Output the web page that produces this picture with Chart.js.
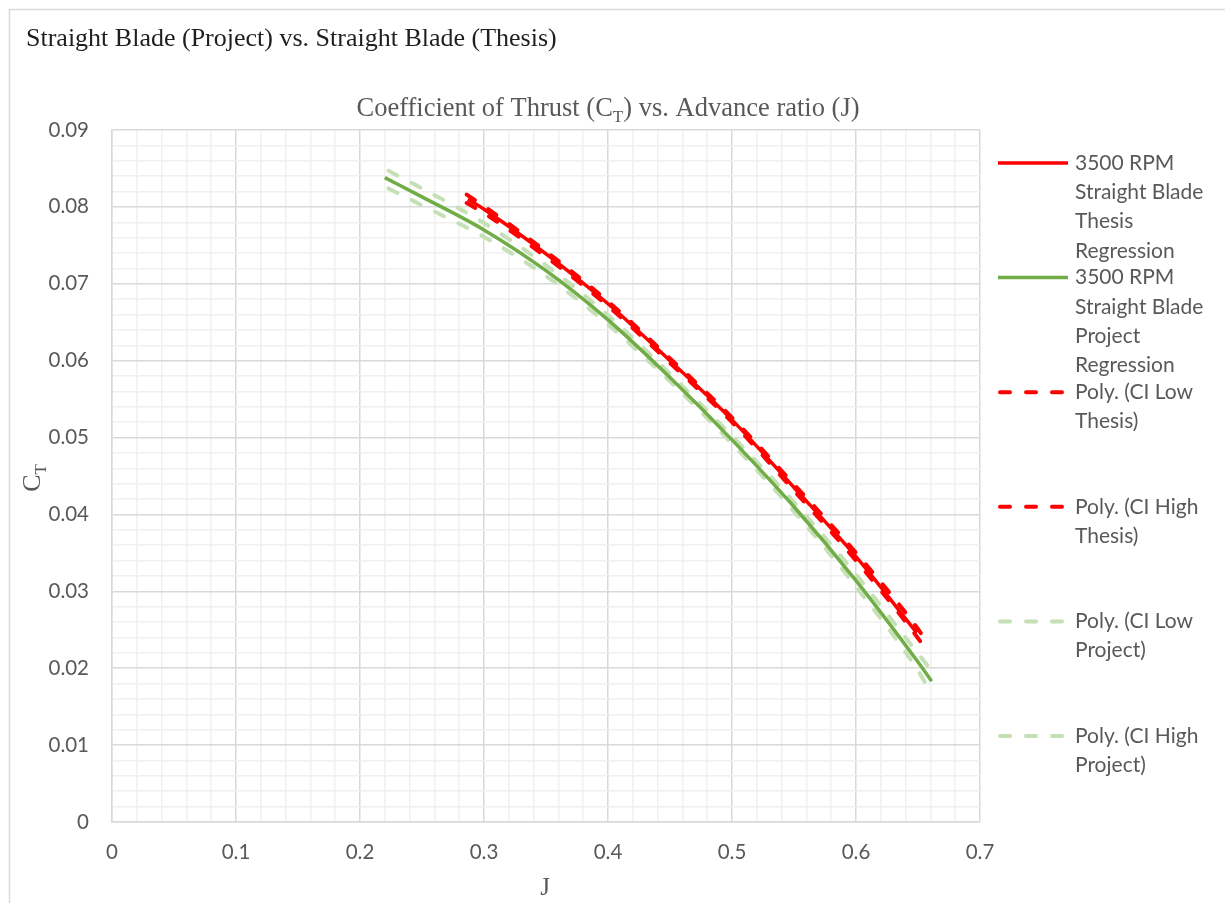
<!DOCTYPE html>
<html>
<head>
<meta charset="utf-8">
<script src="https://cdn.jsdelivr.net/npm/chart.js@4.4.1/dist/chart.umd.min.js"></script>
<style>
  body { margin: 0; background: #fff; }
</style>
</head>
<body>
<canvas id="myChart" width="1225" height="903"></canvas>
<script>
// values (J -> C_T)
const thesisJ  = [0.287, 0.30, 0.35, 0.40, 0.45, 0.50, 0.55, 0.60, 0.649];
const thesisCT = [0.0810, 0.0797, 0.0739, 0.0674, 0.0600, 0.0523, 0.0435, 0.0345, 0.0246];

const projectJ  = [0.22, 0.25, 0.30, 0.35, 0.40, 0.45, 0.50, 0.55, 0.60, 0.65, 0.661];
const projectCT = [0.0838, 0.0813, 0.0770, 0.0717, 0.0653, 0.0578, 0.0497, 0.0410, 0.0314, 0.0208, 0.0183];

const thesisCiJ    = [0.286, 0.30, 0.35, 0.40, 0.45, 0.50, 0.55, 0.60, 0.65, 0.656];
const thesisCiLow  = [0.0805, 0.0792, 0.0735, 0.0671, 0.0597, 0.0520, 0.0431, 0.0340, 0.0239, 0.0225];
const thesisCiHigh = [0.0816, 0.0801, 0.0742, 0.0677, 0.0603, 0.0526, 0.0439, 0.0350, 0.0251, 0.0237];

const projectCiJ    = [0.223, 0.25, 0.30, 0.35, 0.40, 0.45, 0.50, 0.55, 0.60, 0.65, 0.658];
const projectCiLow  = [0.0824, 0.0802, 0.0761, 0.0710, 0.0647, 0.0573, 0.0492, 0.0404, 0.0306, 0.0197, 0.0175];
const projectCiHigh = [0.0847, 0.0824, 0.0779, 0.0724, 0.0659, 0.0583, 0.0502, 0.0416, 0.0322, 0.0219, 0.0203];

const legendLabels = [
    ['3500 RPM', 'Straight Blade', 'Thesis', 'Regression'],
    ['3500 RPM', 'Straight Blade', 'Project', 'Regression'],
    ['Poly. (CI Low', 'Thesis)'],
    ['Poly. (CI High', 'Thesis)'],
    ['Poly. (CI Low', 'Project)'],
    ['Poly. (CI High', 'Project)']
];

const pageTitle = 'Straight Blade (Project) vs. Straight Blade (Thesis)';
const chartTitle = [['Coefficient of Thrust (C', false], ['T', true], [') vs. Advance ratio (J)', false]];
const yTitle = [['C', false], ['T', true]];
const xTitle = 'J';

const xMin = 0, xMax = 0.7, xMajor = 0.1, xMinor = 0.02;
const yMin = 0, yMax = 0.09, yMajor = 0.01, yMinor = 0.002;

function pts(xs, ys) {
    return xs.map((x, i) => ({x: x, y: ys[i]}));
}

function isStep(v, step) {
    return Math.abs(v / step - Math.round(v / step)) < 1e-6;
}

const SERIF = '"Liberation Serif", "Times New Roman", serif';
const SANS = 'Lato, "Open Sans", sans-serif';
const DASH = [10, 16];

// text with a subscript part
function drawRich(ctx, parts, x, y, size, align) {
    let total = 0;
    parts.forEach(p => {
        ctx.font = (p[1] ? size * 0.65 : size) + 'px ' + SERIF;
        total += ctx.measureText(p[0]).width;
    });
    let cx = align === 'center' ? x - total / 2 : x;
    parts.forEach(p => {
        ctx.font = (p[1] ? size * 0.65 : size) + 'px ' + SERIF;
        ctx.fillText(p[0], cx, y + (p[1] ? size * 0.22 : 0));
        cx += ctx.measureText(p[0]).width;
    });
}

const decor = {
    id: 'decor',
    beforeDraw(chart) {
        const ctx = chart.ctx;
        ctx.save();
        ctx.fillStyle = '#ffffff';
        ctx.fillRect(0, 0, chart.width, chart.height);
        ctx.strokeStyle = '#d9d9d9';
        ctx.lineWidth = 1.5;
        ctx.strokeRect(9.5, 9.5, 1400, 1000);
        ctx.restore();
    },
    afterDraw(chart) {
        const ctx = chart.ctx;
        ctx.save();
        ctx.textBaseline = 'alphabetic';
        ctx.textAlign = 'left';

        ctx.fillStyle = '#1f1f1f';
        ctx.font = '26px ' + SERIF;
        ctx.fillText(pageTitle, 26, 46);

        ctx.fillStyle = '#595959';
        drawRich(ctx, chartTitle, 608, 116, 26.5, 'center');

        ctx.font = '25px ' + SERIF;
        ctx.textAlign = 'center';
        ctx.fillText(xTitle, 545, 895);
        ctx.textAlign = 'left';

        ctx.save();
        ctx.translate(40, 478);
        ctx.rotate(-Math.PI / 2);
        drawRich(ctx, yTitle, 0, 0, 26, 'center');
        ctx.restore();

        // legend, drawn from the dataset styles
        const lx0 = 998, lx1 = 1068, tx = 1075, top = 163, slot = 114.6, lh = 29.3;
        ctx.font = '21px ' + SANS;
        ctx.textBaseline = 'middle';
        chart.data.datasets.forEach((ds, i) => {
            const y = top + i * slot;
            ctx.save();
            ctx.strokeStyle = ds.borderColor;
            ctx.lineWidth = ds.borderWidth;
            ctx.lineCap = ds.borderCapStyle || 'butt';
            ctx.setLineDash(ds.borderDash || []);
            ctx.beginPath();
            ctx.moveTo(lx0 + (ds.borderDash ? 2 : 0), y);
            ctx.lineTo(lx1, y);
            ctx.stroke();
            ctx.restore();
            ctx.fillStyle = '#595959';
            legendLabels[i].forEach((line, k) => ctx.fillText(line, tx, y + k * lh));
        });
        ctx.restore();
    }
};

function tickFont() {
    return {family: SANS, size: 20.5};
}

const ctx = document.getElementById('myChart');

new Chart(ctx, {
    type: 'scatter',
    data: {
        datasets: [{
            label: legendLabels[0].join(' '),
            data: pts(thesisJ, thesisCT),
            borderColor: '#ff0000',
            borderWidth: 3.5,
            order: 0
        }, {
            label: legendLabels[1].join(' '),
            data: pts(projectJ, projectCT),
            borderColor: '#70ad47',
            borderWidth: 3.5,
            order: 1
        }, {
            label: legendLabels[2].join(' '),
            data: pts(thesisCiJ, thesisCiLow),
            borderColor: '#ff0000',
            borderWidth: 4,
            borderDash: DASH,
            borderCapStyle: 'round',
            order: 2
        }, {
            label: legendLabels[3].join(' '),
            data: pts(thesisCiJ, thesisCiHigh),
            borderColor: '#ff0000',
            borderWidth: 4,
            borderDash: DASH,
            borderCapStyle: 'round',
            order: 2
        }, {
            label: legendLabels[4].join(' '),
            data: pts(projectCiJ, projectCiLow),
            borderColor: '#c5e0b4',
            borderWidth: 4,
            borderDash: DASH,
            borderCapStyle: 'round',
            order: 3
        }, {
            label: legendLabels[5].join(' '),
            data: pts(projectCiJ, projectCiHigh),
            borderColor: '#c5e0b4',
            borderWidth: 4,
            borderDash: DASH,
            borderCapStyle: 'round',
            order: 3
        }]
    },
    options: {
        responsive: false,
        animation: false,
        showLine: true,
        elements: {
            point: {radius: 0, hoverRadius: 0},
            line: {cubicInterpolationMode: 'monotone', fill: false}
        },
        layout: {
            padding: {top: 130, right: 245, left: 0, bottom: 0}
        },
        plugins: {
            legend: {display: false},
            title: {display: false},
            tooltip: {enabled: false}
        },
        scales: {
            x: {
                type: 'linear',
                min: xMin,
                max: xMax,
                afterFit(scale) { scale.height = 81; },
                ticks: {
                    stepSize: xMinor,
                    maxTicksLimit: 100,
                    autoSkip: false,
                    maxRotation: 0,
                    padding: 18,
                    color: '#595959',
                    font: tickFont(),
                    callback: v => isStep(v, xMajor) ? String(Number(v.toFixed(2))) : ''
                },
                grid: {
                    drawTicks: false,
                    lineWidth: 1.5,
                    color: c => (c.tick && isStep(c.tick.value, xMajor)) ? '#d9d9d9' : '#f0f0f0'
                },
                border: {color: '#d9d9d9', width: 1.5}
            },
            y: {
                type: 'linear',
                min: yMin,
                max: yMax,
                afterFit(scale) { scale.width = 112; },
                ticks: {
                    stepSize: yMinor,
                    maxTicksLimit: 100,
                    autoSkip: false,
                    padding: 23,
                    color: '#595959',
                    font: tickFont(),
                    callback: v => isStep(v, yMajor) ? String(Number(v.toFixed(3))) : ''
                },
                grid: {
                    drawTicks: false,
                    lineWidth: 1.5,
                    color: c => (c.tick && isStep(c.tick.value, yMajor)) ? '#d9d9d9' : '#f0f0f0'
                },
                border: {color: '#d9d9d9', width: 1.5}
            }
        }
    },
    plugins: [decor]
});
</script>
</body>
</html>
